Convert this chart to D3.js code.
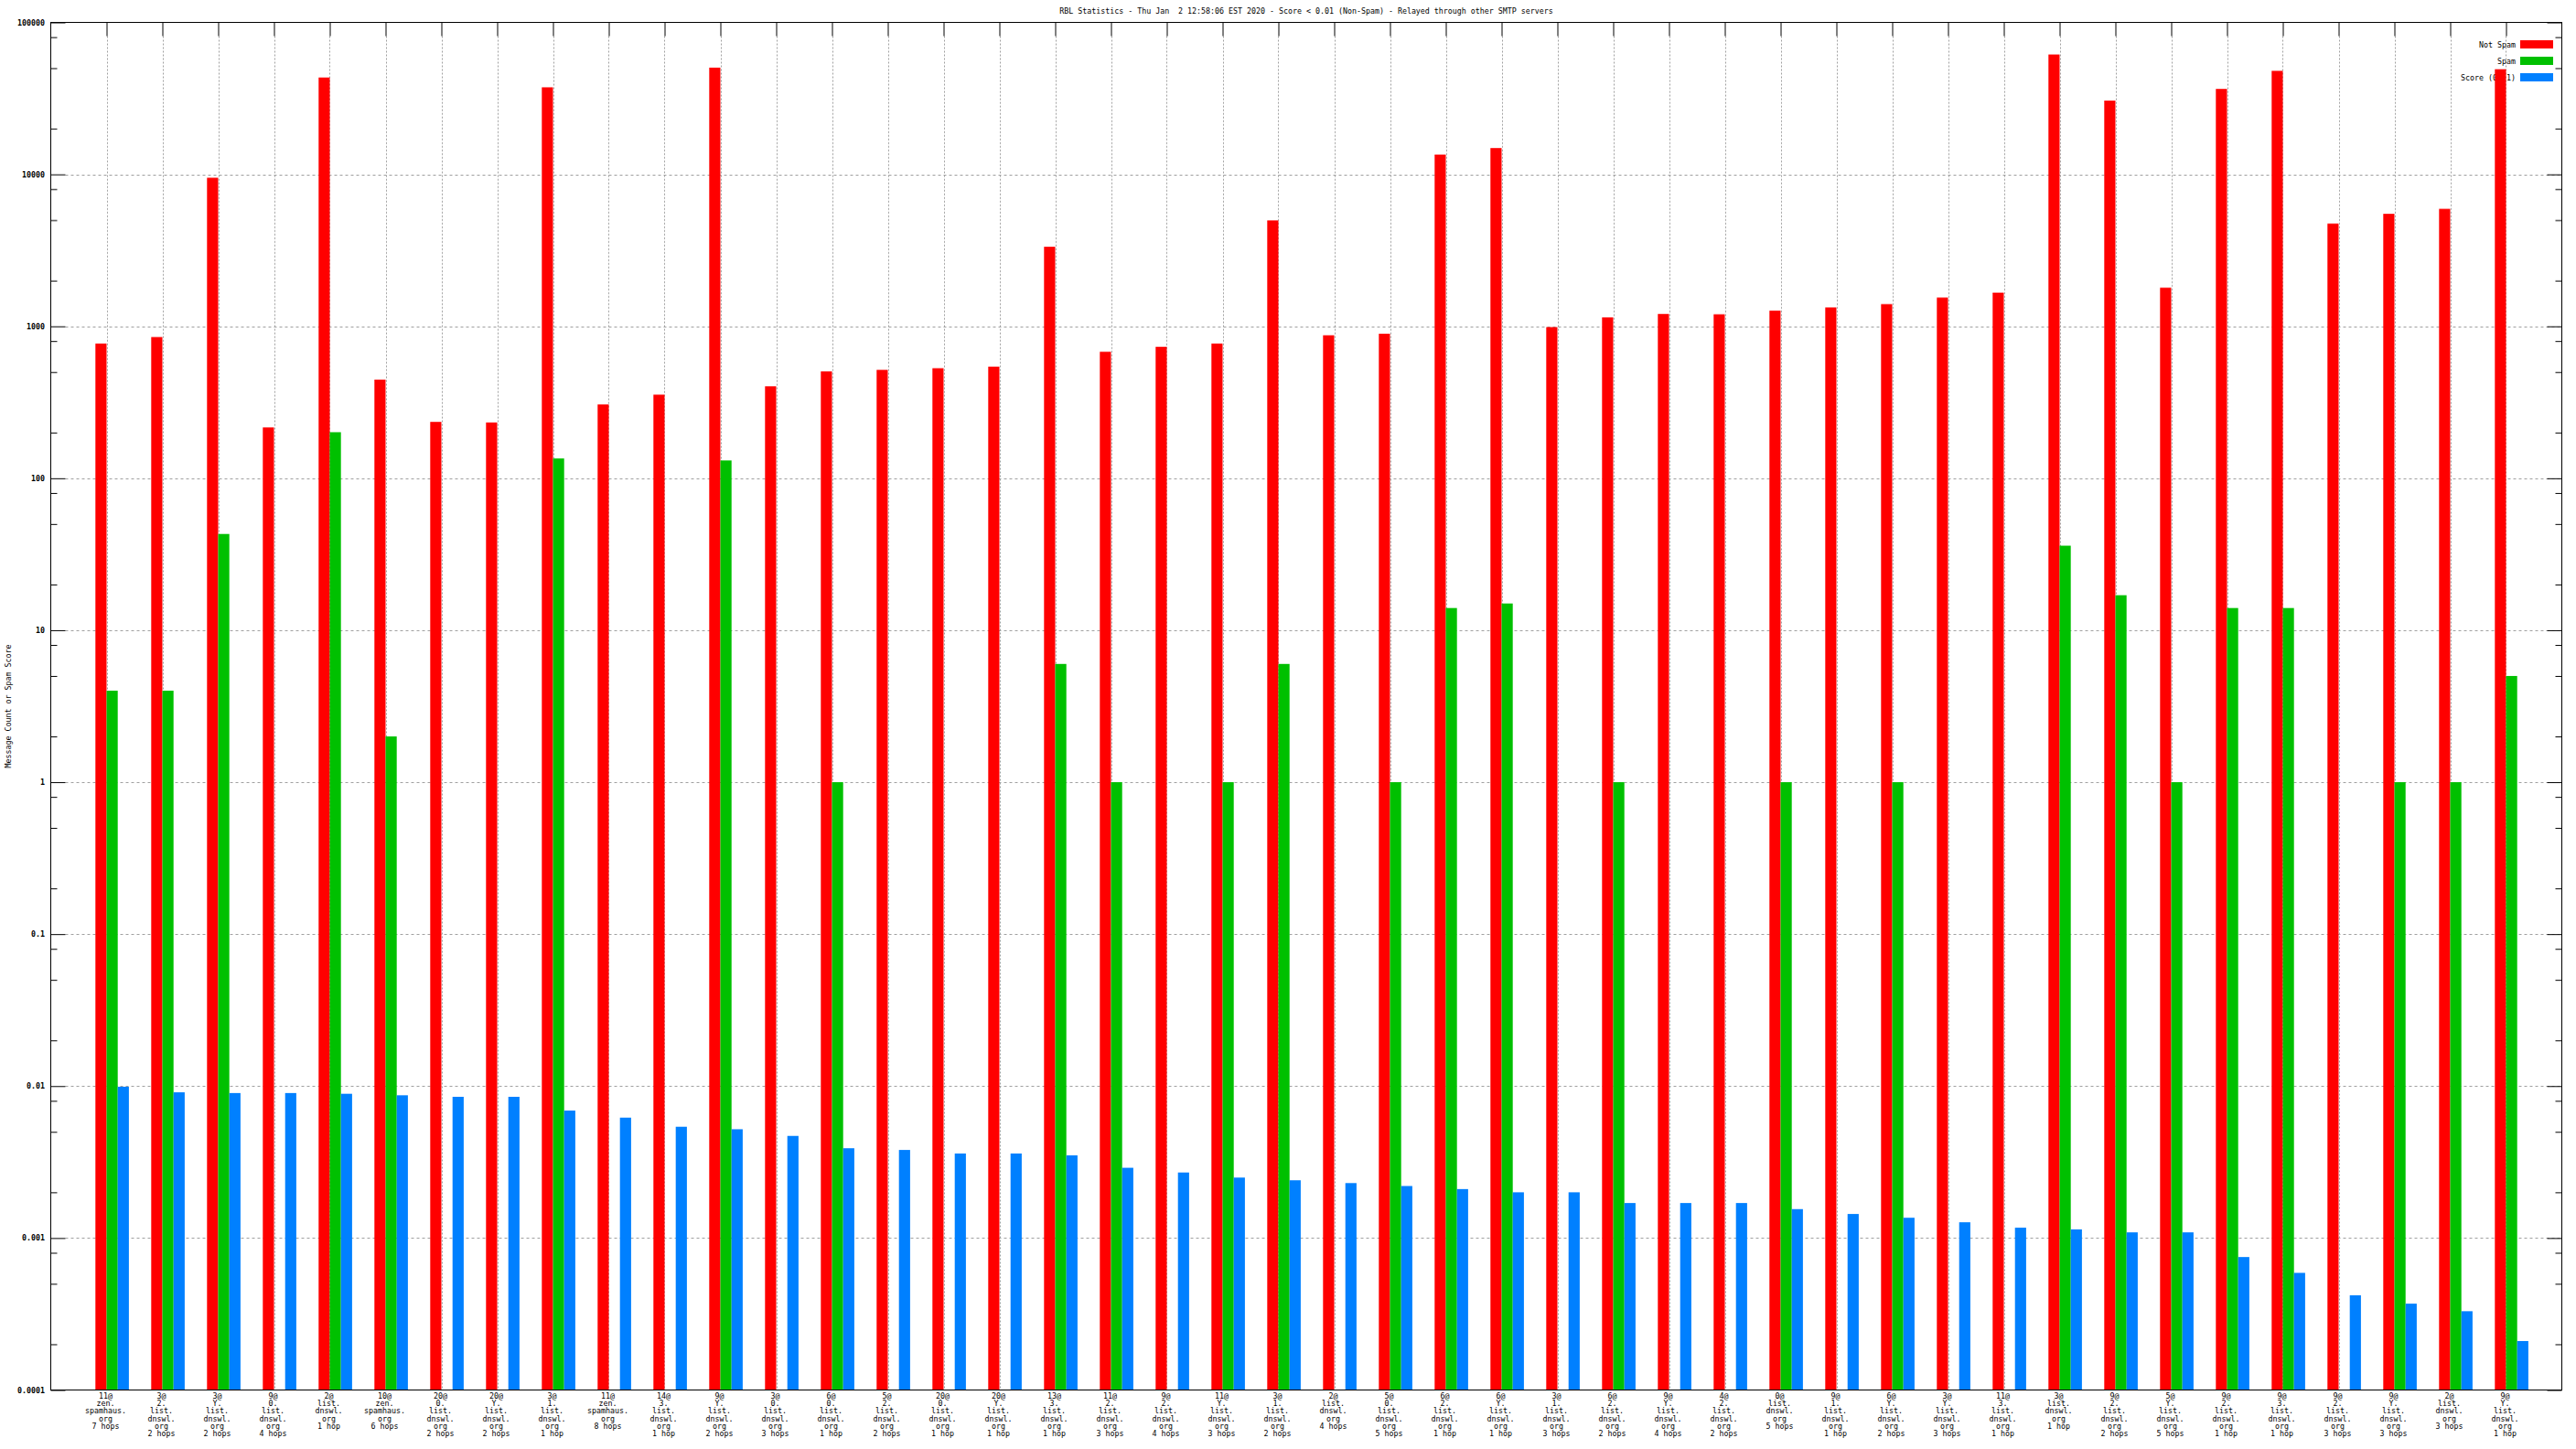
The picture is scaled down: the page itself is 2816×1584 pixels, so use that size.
<!DOCTYPE html>
<html>
<head>
<meta charset="utf-8">
<script src="https://cdn.jsdelivr.net/npm/d3@7"></script>
<style>
  html, body { margin: 0; padding: 0; background: #fff; }
  svg { display: block; }
  text { font-family: "DejaVu Sans Mono", "Liberation Mono", monospace; font-size: 8.3px; fill: #000; }
</style>
</head>
<body>
<svg id="chart" width="2816" height="1584"></svg>
<script>
// ---------- DATA ----------
const titleText = "RBL Statistics - Thu Jan  2 12:58:06 EST 2020 - Score < 0.01 (Non-Spam) - Relayed through other SMTP servers";
const yAxisLabel = "Message Count or Spam Score";
const seriesNames = ["Not Spam", "Spam", "Score (0..1)"];

const categories = [
  "11@|zen.|spamhaus.|org|7 hops",
  "3@|2.|list.|dnswl.|org|2 hops",
  "3@|Y.|list.|dnswl.|org|2 hops",
  "9@|0.|list.|dnswl.|org|4 hops",
  "2@|list.|dnswl.|org|1 hop",
  "10@|zen.|spamhaus.|org|6 hops",
  "20@|0.|list.|dnswl.|org|2 hops",
  "20@|Y.|list.|dnswl.|org|2 hops",
  "3@|1.|list.|dnswl.|org|1 hop",
  "11@|zen.|spamhaus.|org|8 hops",
  "14@|3.|list.|dnswl.|org|1 hop",
  "9@|Y.|list.|dnswl.|org|2 hops",
  "3@|0.|list.|dnswl.|org|3 hops",
  "6@|0.|list.|dnswl.|org|1 hop",
  "5@|2.|list.|dnswl.|org|2 hops",
  "20@|0.|list.|dnswl.|org|1 hop",
  "20@|Y.|list.|dnswl.|org|1 hop",
  "13@|3.|list.|dnswl.|org|1 hop",
  "11@|2.|list.|dnswl.|org|3 hops",
  "9@|2.|list.|dnswl.|org|4 hops",
  "11@|Y.|list.|dnswl.|org|3 hops",
  "3@|1.|list.|dnswl.|org|2 hops",
  "2@|list.|dnswl.|org|4 hops",
  "5@|0.|list.|dnswl.|org|5 hops",
  "6@|2.|list.|dnswl.|org|1 hop",
  "6@|Y.|list.|dnswl.|org|1 hop",
  "3@|1.|list.|dnswl.|org|3 hops",
  "6@|2.|list.|dnswl.|org|2 hops",
  "9@|Y.|list.|dnswl.|org|4 hops",
  "4@|2.|list.|dnswl.|org|2 hops",
  "0@|list.|dnswl.|org|5 hops",
  "9@|1.|list.|dnswl.|org|1 hop",
  "6@|Y.|list.|dnswl.|org|2 hops",
  "3@|Y.|list.|dnswl.|org|3 hops",
  "11@|3.|list.|dnswl.|org|1 hop",
  "3@|list.|dnswl.|org|1 hop",
  "9@|2.|list.|dnswl.|org|2 hops",
  "5@|Y.|list.|dnswl.|org|5 hops",
  "9@|2.|list.|dnswl.|org|1 hop",
  "9@|3.|list.|dnswl.|org|1 hop",
  "9@|2.|list.|dnswl.|org|3 hops",
  "9@|Y.|list.|dnswl.|org|3 hops",
  "2@|list.|dnswl.|org|3 hops",
  "9@|Y.|list.|dnswl.|org|1 hop"
];

const notSpam = [
  770, 850, 9500, 216, 43400, 446, 235, 233, 37400, 306,
  355, 50400, 403, 505, 517, 530, 543, 3340, 680, 733,
  770, 4980, 873, 894, 13500, 14900, 988, 1145, 1206, 1200,
  1268, 1330, 1400, 1545, 1667, 61500, 30600, 1795, 36500, 48000,
  4740, 5500, 5930, 49200
];

const spam = [
  4, 4, 43, null, 201, 2, null, null, 135, null,
  null, 131, null, 1, null, null, null, 6, 1, null,
  1, 6, null, 1, 14, 15, null, 1, null, null,
  1, null, 1, null, null, 36, 17, 1, 14, 14,
  null, 1, 1, 5
];

const score = [
  0.0099, 0.0091, 0.0090, 0.0090, 0.0089, 0.0087, 0.0085, 0.0085, 0.0069, 0.0062,
  0.0054, 0.0052, 0.0047, 0.0039, 0.0038, 0.0036, 0.0036, 0.0035, 0.0029, 0.0027,
  0.0025, 0.0024, 0.0023, 0.0022, 0.0021, 0.0020, 0.0020, 0.0017, 0.0017, 0.0017,
  0.00155, 0.00144, 0.00136, 0.00127, 0.00117, 0.00114, 0.00109, 0.00109, 0.00075, 0.00059,
  0.00042, 0.00037, 0.00033, 0.00021
];

const yTickValues = [100000, 10000, 1000, 100, 10, 1, 0.1, 0.01, 0.001, 0.0001];
const yTickLabels = ["100000", "10000", "1000", "100", "10", "1", "0.1", "0.01", "0.001", "0.0001"];

// ---------- LAYOUT ----------
const colors = ["#ff0000", "#00c000", "#0080ff"];
const L = 55.5, R = 2800.5, T = 24.5, B = 1519.5;
const svg = d3.select("#chart");

const x = d3.scaleLinear().domain([0, categories.length + 1]).range([L, R]);
const y = d3.scaleLog().domain([1e-4, 1e5]).range([B, T]);
const barW = 0.2;

// minor tick values (2, 5, 8 x 10^n)
const minorVals = [];
for (let e = -4; e < 5; e++) [2, 5, 8].forEach(m => minorVals.push(m * Math.pow(10, e)));

// ---------- GRID ----------
const grid = svg.append("g");
grid.selectAll("line.hg").data(yTickValues.filter(v => v > 1e-4 && v < 1e5)).join("line")
  .attr("x1", L + 16).attr("x2", R)
  .attr("y1", d => Math.round(y(d)) + 0.5).attr("y2", d => Math.round(y(d)) + 0.5)
  .attr("stroke", "#a0a0a0").attr("stroke-width", 1).attr("stroke-dasharray", "3,3");
grid.selectAll("line.vg").data(categories).join("line")
  .attr("x1", (d, i) => Math.round(x(i + 1)) + 0.5).attr("x2", (d, i) => Math.round(x(i + 1)) + 0.5)
  .attr("y1", T + 15).attr("y2", B)
  .attr("stroke", "#a0a0a0").attr("stroke-width", 1).attr("stroke-dasharray", "2,2");

// ---------- AXES (ticks via d3 axes) ----------
const yMajorL = d3.axisRight(y).tickValues(yTickValues).tickSize(16).tickFormat("");
const yMinorL = d3.axisRight(y).tickValues(minorVals).tickSize(7).tickFormat("");
const yMajorR = d3.axisLeft(y).tickValues(yTickValues).tickSize(16).tickFormat("");
const yMinorR = d3.axisLeft(y).tickValues(minorVals).tickSize(7).tickFormat("");
const catTicks = d3.range(1, categories.length + 1);
const xTop = d3.axisBottom(x).tickValues(catTicks).tickSize(15).tickFormat("");

function styleAxis(g) {
  g.select(".domain").remove();
  g.selectAll("line").attr("stroke", "#000").attr("stroke-width", 1);
}
svg.append("g").attr("transform", `translate(${L},0)`).call(yMajorL).call(styleAxis);
svg.append("g").attr("transform", `translate(${L},0)`).call(yMinorL).call(styleAxis);
svg.append("g").attr("transform", `translate(${R},0)`).call(yMajorR).call(styleAxis);
svg.append("g").attr("transform", `translate(${R},0)`).call(yMinorR).call(styleAxis);
svg.append("g").attr("transform", `translate(0,${T})`).call(xTop).call(styleAxis);

// ---------- LEGEND ----------
const legend = svg.append("g");
seriesNames.forEach((name, k) => {
  const cy = 48.5 + k * 18;
  legend.append("text").attr("x", 2750).attr("y", cy).attr("text-anchor", "end")
    .attr("dominant-baseline", "central").text(name);
  legend.append("rect").attr("x", 2755).attr("y", cy - 4.5).attr("width", 36).attr("height", 9)
    .attr("fill", colors[k]);
});

// ---------- BARS ----------
const seriesData = [notSpam, spam, score];
seriesData.forEach((vals, k) => {
  svg.append("g").selectAll("rect").data(vals.map((v, i) => ({ v, i })).filter(d => d.v != null && d.v > 0))
    .join("rect")
    .attr("x", d => x(d.i + 1 + (k - 1) * barW))
    .attr("width", x(barW) - x(0))
    .attr("y", d => y(d.v))
    .attr("height", d => B - y(d.v))
    .attr("fill", colors[k]);
});

// ---------- BORDER ----------
svg.append("rect").attr("x", L).attr("y", T).attr("width", R - L).attr("height", B - T)
  .attr("fill", "none").attr("stroke", "#000").attr("stroke-width", 1);

// ---------- TEXT ----------
svg.append("g").selectAll("text").data(yTickValues).join("text")
  .attr("x", 49).attr("y", d => y(d)).attr("text-anchor", "end")
  .attr("dominant-baseline", "central").style("font-weight", "bold")
  .text((d, i) => yTickLabels[i]);

const xl = svg.append("g");
categories.forEach((c, i) => {
  const t = xl.append("text").attr("text-anchor", "middle");
  c.split("|").forEach((line, j) => {
    t.append("tspan").attr("x", x(i + 1) - 1).attr("y", 1526 + j * 8.2)
      .attr("dominant-baseline", "central").text(line);
  });
});

svg.append("text").attr("x", (L + R) / 2).attr("y", 12).attr("text-anchor", "middle")
  .attr("dominant-baseline", "central").style("white-space", "pre").attr("xml:space", "preserve")
  .text(titleText);

svg.append("text").attr("transform", `translate(9,${(T + B) / 2}) rotate(-90)`)
  .attr("text-anchor", "middle").attr("dominant-baseline", "central").text(yAxisLabel);
</script>
</body>
</html>
